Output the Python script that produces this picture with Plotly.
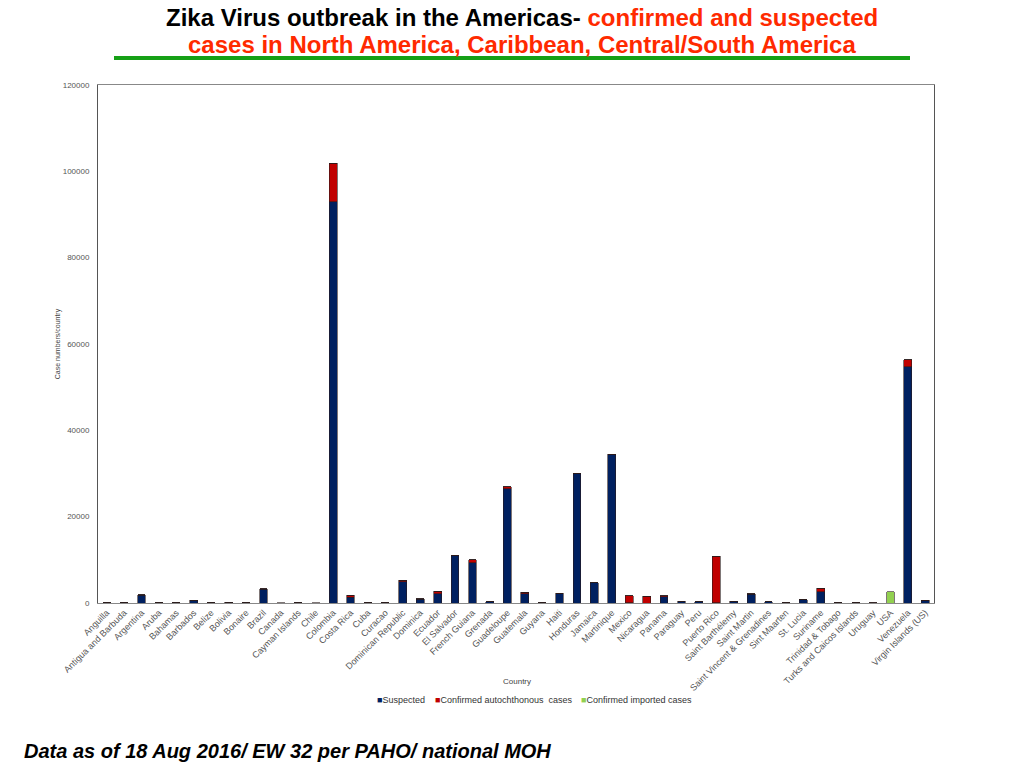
import plotly.graph_objects as go

# data
countries = [
    "Anguilla", "Antigua and Barbuda", "Argentina", "Aruba", "Bahamas", "Barbados",
    "Belize", "Bolivia", "Bonaire", "Brazil", "Canada", "Cayman Islands", "Chile",
    "Colombia", "Costa Rica", "Cuba", "Curacao", "Dominican Republic", "Dominica",
    "Ecuador", "El Salvador", "French Guiana", "Grenada", "Guadeloupe", "Guatemala",
    "Guyana", "Haiti", "Honduras", "Jamaica", "Martinique", "Mexico", "Nicaragua",
    "Panama", "Paraguay", "Peru", "Puerto Rico", "Saint Barthélemy", "Saint Martin",
    "Saint Vincent & Grenadines", "Sint Maarten", "St. Lucia", "Suriname",
    "Trinidad & Tobago", "Turks and Caicos Islands", "Uruguay", "USA", "Venezuela",
    "Virgin Islands (US)",
]
suspected = [
    50, 50, 1800, 50, 20, 600,
    50, 200, 40, 3200, 0, 30, 0,
    92900, 1300, 50, 40, 4900, 900,
    2200, 11000, 9300, 250, 26500, 2200,
    60, 2200, 29900, 4650, 34400, 20, 0,
    1400, 400, 250, 100, 400, 2000,
    300, 60, 700, 2600,
    40, 80, 0, 0, 54700,
    550,
]
confirmed_auto = [
    10, 10, 60, 10, 10, 80,
    10, 30, 10, 100, 0, 10, 0,
    9000, 500, 10, 10, 400, 80,
    550, 60, 700, 30, 450, 250,
    10, 100, 150, 50, 50, 1650, 1550,
    300, 50, 50, 10700, 50, 100,
    40, 20, 60, 850,
    30, 20, 20, 0, 1600,
    60,
]
confirmed_imported = [
    0, 0, 0, 0, 0, 0,
    0, 0, 0, 0, 30, 0, 20,
    0, 0, 0, 0, 0, 0,
    0, 0, 0, 0, 0, 0,
    0, 0, 0, 0, 0, 0, 0,
    0, 0, 0, 0, 0, 0,
    0, 0, 0, 0,
    0, 0, 20, 2600, 0,
    0,
]
y_ticks = [0, 20000, 40000, 60000, 80000, 100000, 120000]

series_names = ["Suspected", "Confirmed autochthonous  cases", "Confirmed imported cases"]
series_colors = ["#002060", "#C00000", "#92D050"]

font_main = "Liberation Sans, Arial, sans-serif"
bar_line = dict(color="#2a1a1a", width=0.6)

# the page has an 8px body margin, so the figure is shifted by 8px
W, H = 1008, 760
PL, PT, PR, PB = 90, 77, 926, 595   # plot box in figure pixels
pw, ph = PR - PL, PB - PT


def px(x):
    return (x - 8 - PL) / pw


def py(y):
    return (PB - (y - 8)) / ph


fig = go.Figure()
for name, vals, col in zip(series_names, [suspected, confirmed_auto, confirmed_imported], series_colors):
    fig.add_trace(go.Bar(x=countries, y=vals, name=name,
                         marker=dict(color=col, line=bar_line), showlegend=False))

annotations = [
    dict(xref="paper", yref="paper", x=px(522), y=py(18),
         xanchor="center", yanchor="middle", showarrow=False,
         text="<b>Zika Virus outbreak in the Americas- <span style='color:#ff2a00'>confirmed and suspected</span></b>",
         font=dict(family=font_main, size=24, color="black")),
    dict(xref="paper", yref="paper", x=px(522), y=py(45),
         xanchor="center", yanchor="middle", showarrow=False,
         text="<b>cases in North America, Caribbean, Central/South America</b>",
         font=dict(family=font_main, size=24, color="#ff2a00")),
    dict(xref="paper", yref="paper", x=px(22), y=py(751),
         xanchor="left", yanchor="middle", showarrow=False,
         text="<b><i>Data as of 18 Aug 2016/ EW 32 per PAHO/ national MOH</i></b>",
         font=dict(family=font_main, size=20, color="black")),
    dict(xref="paper", yref="paper", x=px(517), y=py(681),
         xanchor="center", yanchor="middle", showarrow=False,
         text="Country", font=dict(family=font_main, size=8, color="#444444")),
]
# legend drawn as a compact text row like the reference
legend_x = [375, 433, 579]
for lx, name, col in zip(legend_x, series_names, series_colors):
    annotations.append(dict(
        xref="paper", yref="paper", x=px(lx), y=py(700),
        xanchor="left", yanchor="middle", showarrow=False,
        text=f"<span style='color:{col}'>■</span>{name}",
        font=dict(family=font_main, size=9, color="#333333")))

fig.update_layout(
    barmode="stack",
    bargap=0.55,
    width=W, height=H,
    margin=dict(l=PL, r=W - PR, t=PT, b=H - PB, autoexpand=False),
    paper_bgcolor="white",
    plot_bgcolor="white",
    font=dict(family=font_main, size=8, color="#555555"),
    showlegend=False,
    shapes=[dict(type="line", xref="paper", yref="paper",
                 x0=px(114), x1=px(910), y0=py(58), y1=py(58),
                 line=dict(color="#16a016", width=4))],
    annotations=annotations,
)
fig.update_xaxes(
    tickangle=-45, tickfont=dict(size=9, color="#555555"),
    showline=True, linecolor="#888888", linewidth=1, mirror=True,
    showgrid=False, ticks="",
)
fig.update_yaxes(
    title=dict(text="Case numbers/country", font=dict(size=7, color="#444444"), standoff=1),
    range=[0, 120000], tickvals=y_ticks, tickformat="d",
    tickfont=dict(size=8, color="#555555"), ticklabelstandoff=6,
    showline=True, linecolor="#555555", linewidth=1, mirror=True,
    showgrid=False, zeroline=False, ticks="",
)

fig.write_html("out.html")
